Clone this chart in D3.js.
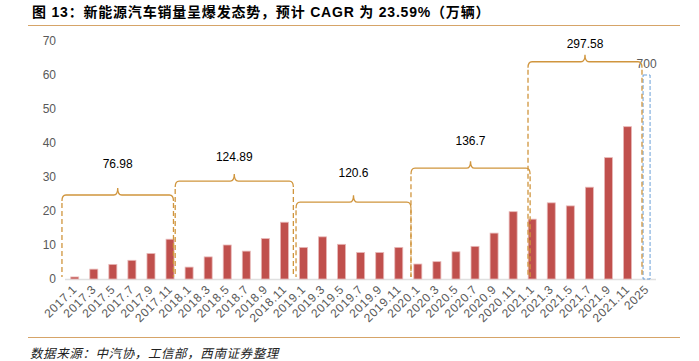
<!DOCTYPE html>
<html lang="zh">
<head>
<meta charset="UTF-8">
<title>新能源汽车销量</title>
<style>
    body{ margin:0; background:#fff; }
    text{ font-family:"Liberation Sans","Noto Sans CJK SC",sans-serif; }
    .title{ font-weight:bold; font-size:14px; fill:#000; letter-spacing:0.8px; }
    .src{ font-family:"Noto Sans CJK SC",sans-serif; font-style:italic; font-size:12.5px; fill:#222; letter-spacing:0.6px; }
    .tick text{ fill:#595959; }
</style>
<script src="https://d3js.org/d3.v7.min.js"></script>
</head>
<body>
<div class="canvas"></div>
<script>
const months = ["2017.1","2017.3","2017.5","2017.7","2017.9","2017.11",
                "2018.1","2018.3","2018.5","2018.7","2018.9","2018.11",
                "2019.1","2019.3","2019.5","2019.7","2019.9","2019.11",
                "2020.1","2020.3","2020.5","2020.7","2020.9","2020.11",
                "2021.1","2021.3","2021.5","2021.7","2021.9","2021.11"];
const sales = [0.6, 2.9, 4.3, 5.5, 7.5, 11.7,
               3.5, 6.5, 10.0, 8.2, 11.9, 16.7,
               9.3, 12.4, 10.2, 7.8, 7.8, 9.3,
               4.4, 5.1, 8.0, 9.6, 13.5, 19.8,
               17.6, 22.4, 21.5, 27.0, 35.7, 44.8];
const targetCat = "2025";
const targetBar = 60;      // drawn height (bar is cut off)
const targetLabel = "700";
const yTicks = [0, 10, 20, 30, 40, 50, 60, 70];

// yearly totals: span in category index, bracket level and label level in y units
const brackets = [
    {label:"76.98",  from:-0.67, to:5.18,  level:24.7, labelAt:33.8},
    {label:"124.89", from:5.27,  to:11.47, level:28.8, labelAt:35.9},
    {label:"120.6",  from:11.61, to:17.64, level:22.6, labelAt:31.2},
    {label:"136.7",  from:17.64, to:23.89, level:32.6, labelAt:40.6},
    {label:"297.58", from:23.78, to:29.76, level:63.9, labelAt:69.1}
];

const W = 699, H = 361;
const svg = d3.select('.canvas').append('svg').attr('width', W).attr('height', H);

// title + rules
svg.append('text').attr('class','title').attr('x', 32).attr('y', 17)
    .text('图 13：新能源汽车销量呈爆发态势，预计 CAGR 为 23.59%（万辆）');
svg.append('line').attr('x1', 28).attr('x2', 680).attr('y1', 25.5).attr('y2', 25.5)
    .attr('stroke', '#d6a468').attr('stroke-width', 1.2);
svg.append('line').attr('x1', 28).attr('x2', 680).attr('y1', 337.5).attr('y2', 337.5)
    .attr('stroke', '#d6a468').attr('stroke-width', 1.2);
svg.append('text').attr('class','src').attr('x', 30).attr('y', 358)
    .text('数据来源：中汽协，工信部，西南证券整理');

const cats = months.concat([targetCat]);
const x = d3.scaleBand().domain(cats).range([65.2, 656.1])
    .paddingInner(0.58).paddingOuter(0.29);
const y = d3.scaleLinear().domain([0, 70]).range([279, 41]);
const step = x.step();
const xi = i => x(cats[0]) + x.bandwidth() / 2 + i * step;

// y axis labels only
const yAxis = svg.append('g').attr('transform', 'translate(60,0)')
    .call(d3.axisLeft(y).tickValues(yTicks).tickSize(0).tickPadding(4));
yAxis.select('.domain').remove();
yAxis.selectAll('text').attr('font-size', 12);

// baseline
svg.append('line').attr('x1', 65).attr('x2', 656).attr('y1', y(0) + 0.5).attr('y2', y(0) + 0.5)
    .attr('stroke', '#e0e0e0').attr('stroke-width', 1.5);

// bars
svg.append('g').selectAll('rect').data(sales).enter().append('rect')
    .attr('x', (d, i) => x(months[i]))
    .attr('y', d => y(d))
    .attr('width', x.bandwidth())
    .attr('height', d => y(0) - y(d))
    .attr('fill', '#c0504d')
    .attr('stroke', '#e8b9b8')
    .attr('stroke-width', 0.8);

// 2025 bar (dashed outline)
svg.append('rect')
    .attr('x', x(targetCat) + 0.5)
    .attr('y', y(targetBar))
    .attr('width', x.bandwidth() - 1)
    .attr('height', y(0) - y(targetBar))
    .attr('fill', 'none')
    .attr('stroke', '#6a9fd8')
    .attr('stroke-width', 1)
    .attr('stroke-dasharray', '4,2');
svg.append('text').attr('x', x(targetCat) + x.bandwidth() / 2).attr('y', y(targetBar) - 11)
    .attr('text-anchor', 'middle').attr('dominant-baseline', 'central')
    .attr('font-size', 12).attr('fill', '#595959').text(targetLabel);

// x axis labels
const xAxis = svg.append('g').attr('transform', `translate(0,${y(0)})`)
    .call(d3.axisBottom(x).tickSize(0).tickPadding(0));
xAxis.select('.domain').remove();
xAxis.selectAll('text')
    .attr('font-size', 12)
    .attr('letter-spacing', '0.6px')
    .attr('text-anchor', 'end')
    .attr('dy', 0)
    .attr('transform', 'translate(3,11) rotate(-45)');

// brackets
const bc = '#d0953d';
const r = 4, bump = 7, bw = 4;
const gb = svg.append('g');
brackets.forEach(b => {
    const x0 = xi(b.from), x1 = xi(b.to), xm = (x0 + x1) / 2, yl = y(b.level);
    const p = d3.path();
    p.moveTo(x0, yl + r + 2);
    p.quadraticCurveTo(x0, yl, x0 + r, yl);
    p.lineTo(xm - bw, yl);
    p.quadraticCurveTo(xm, yl, xm, yl - bump);
    p.quadraticCurveTo(xm, yl, xm + bw, yl);
    p.lineTo(x1 - r, yl);
    p.quadraticCurveTo(x1, yl, x1, yl + r + 2);
    gb.append('path').attr('d', p.toString()).attr('fill', 'none')
        .attr('stroke', bc).attr('stroke-width', 1.3);
    [x0, x1].forEach(xx => {
        gb.append('line').attr('x1', xx).attr('x2', xx)
            .attr('y1', yl + r + 4).attr('y2', y(0.6))
            .attr('stroke', bc).attr('stroke-width', 1.3)
            .attr('stroke-dasharray', '5,3');
    });
    gb.append('text').attr('x', xm).attr('y', y(b.labelAt))
        .attr('text-anchor', 'middle').attr('dominant-baseline', 'central')
        .attr('font-size', 12).attr('fill', '#000').text(b.label);
});
</script>
</body>
</html>
